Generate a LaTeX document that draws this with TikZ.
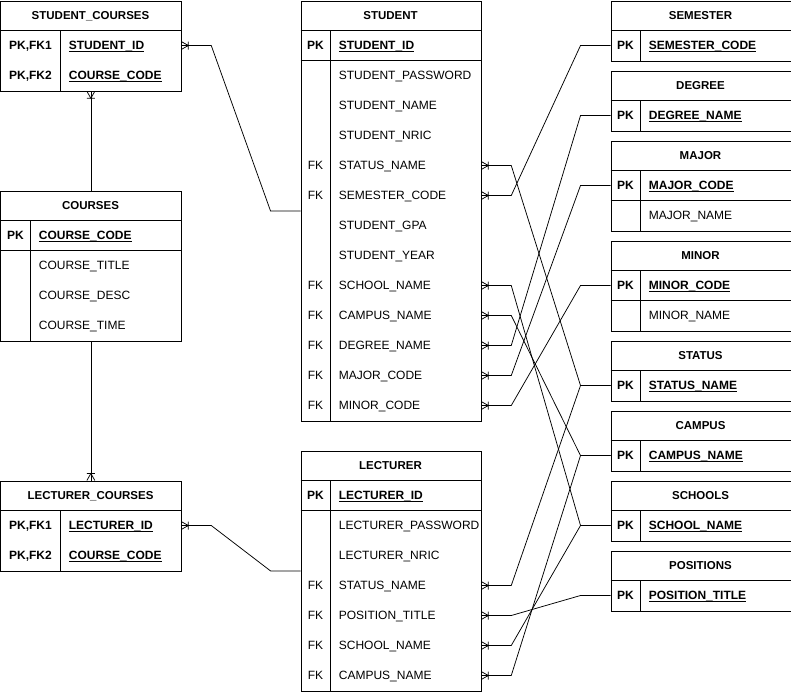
\documentclass[tikz,border=0pt]{standalone}
\usepackage{fontspec}
\setmainfont{Liberation Sans}
\usetikzlibrary{calc}

\tikzset{
  entity/.style={draw, rectangle, inner sep=0pt, anchor=north west, minimum width=180pt},
  txt/.style={text height=8.6pt, text depth=0pt, font=\fontsize{12}{14}\selectfont},
  title/.style={txt, font=\fontsize{11.5}{14}\selectfont\bfseries, anchor=center},
  keyname/.style={txt, font=\fontsize{12}{14}\selectfont\bfseries, anchor=center},
  fkname/.style={txt, anchor=center},
  field/.style={txt, anchor=west},
  pkfield/.style={txt, font=\fontsize{12}{14}\selectfont\bfseries, anchor=west},
  crowfoot/.pic={\draw (0,-4) -- (7,0) -- (0,4) (7,-4) -- (7,4);}
}
\newcommand{\pkname}[1]{\setbox0\hbox{#1}\rlap{\rule[-2.2pt]{\wd0}{0.8pt}}\box0}

\begin{document}
\begin{tikzpicture}[x=1pt, y=-1pt, line width=0.75pt, every node/.style={inner sep=0pt}]
      \useasboundingbox (-0.5,-0.5) rectangle (790.5,690.5);

      % student_courses
      \node[entity, minimum height=90pt] (sc) at (0,0) {};
      \draw (0,30) -- (180,30);
      \draw (60,30) -- (60,90);
      \node[title] (scTitle) at (90,15) {STUDENT\_COURSES};
      \node[keyname] (scKey1) at (30,45) {PK,FK1};
      \node[keyname] (scKey2) at (30,75) {PK,FK2};
      \node[pkfield] (scStudentId) at (68,45) {\pkname{STUDENT\_ID}};
      \node[pkfield] (scCourseCode) at (68,75) {\pkname{COURSE\_CODE}};

      % courses
      \node[entity, minimum height=150pt] (co) at (0,190) {};
      \draw (0,220) -- (180,220);
      \draw (0,250) -- (180,250);
      \draw (30,220) -- (30,340);
      \node[title] (coTitle) at (90,205) {COURSES};
      \node[keyname] (coKey) at (15,235) {PK};
      \node[pkfield] (coCourseCode) at (38,235) {\pkname{COURSE\_CODE}};
      \node[field] (coCourseTitle) at (38,265) {COURSE\_TITLE};
      \node[field] (coCourseDesc) at (38,295) {COURSE\_DESC};
      \node[field] (coCourseTime) at (38,325) {COURSE\_TIME};

      % lecturer_courses
      \node[entity, minimum height=90pt] (lc) at (0,480) {};
      \draw (0,510) -- (180,510);
      \draw (60,510) -- (60,570);
      \node[title] (lcTitle) at (90,495) {LECTURER\_COURSES};
      \node[keyname] (lcKey1) at (30,525) {PK,FK1};
      \node[keyname] (lcKey2) at (30,555) {PK,FK2};
      \node[pkfield] (lcLecturerId) at (68,525) {\pkname{LECTURER\_ID}};
      \node[pkfield] (lcCourseCode) at (68,555) {\pkname{COURSE\_CODE}};

      % student
      \node[entity, minimum height=420pt] (st) at (300,0) {};
      \draw (300,30) -- (480,30);
      \draw (300,60) -- (480,60);
      \draw (330,30) -- (330,420);
      \node[title] (stTitle) at (390,15) {STUDENT};
      \node[keyname] (stKey) at (315,45) {PK};
      \node[pkfield] (stStudentId) at (338,45) {\pkname{STUDENT\_ID}};
      \node[field] (stPassword) at (338,75) {STUDENT\_PASSWORD};
      \node[field] (stName) at (338,105) {STUDENT\_NAME};
      \node[field] (stNric) at (338,135) {STUDENT\_NRIC};
      \node[fkname] (stFk1) at (315,165) {FK};
      \node[field] (stStatus) at (338,165) {STATUS\_NAME};
      \node[fkname] (stFk2) at (315,195) {FK};
      \node[field] (stSemester) at (338,195) {SEMESTER\_CODE};
      \node[field] (stGpa) at (338,225) {STUDENT\_GPA};
      \node[field] (stYear) at (338,255) {STUDENT\_YEAR};
      \node[fkname] (stFk3) at (315,285) {FK};
      \node[field] (stSchool) at (338,285) {SCHOOL\_NAME};
      \node[fkname] (stFk4) at (315,315) {FK};
      \node[field] (stCampus) at (338,315) {CAMPUS\_NAME};
      \node[fkname] (stFk5) at (315,345) {FK};
      \node[field] (stDegree) at (338,345) {DEGREE\_NAME};
      \node[fkname] (stFk6) at (315,375) {FK};
      \node[field] (stMajor) at (338,375) {MAJOR\_CODE};
      \node[fkname] (stFk7) at (315,405) {FK};
      \node[field] (stMinor) at (338,405) {MINOR\_CODE};

      % lecturer
      \node[entity, minimum height=240pt] (le) at (300,450) {};
      \draw (300,480) -- (480,480);
      \draw (300,510) -- (480,510);
      \draw (330,480) -- (330,690);
      \node[title] (leTitle) at (390,465) {LECTURER};
      \node[keyname] (leKey) at (315,495) {PK};
      \node[pkfield] (leLecturerId) at (338,495) {\pkname{LECTURER\_ID}};
      \node[field] (lePassword) at (338,525) {LECTURER\_PASSWORD};
      \node[field] (leNric) at (338,555) {LECTURER\_NRIC};
      \node[fkname] (leFk1) at (315,585) {FK};
      \node[field] (leStatus) at (338,585) {STATUS\_NAME};
      \node[fkname] (leFk2) at (315,615) {FK};
      \node[field] (lePosition) at (338,615) {POSITION\_TITLE};
      \node[fkname] (leFk3) at (315,645) {FK};
      \node[field] (leSchool) at (338,645) {SCHOOL\_NAME};
      \node[fkname] (leFk4) at (315,675) {FK};
      \node[field] (leCampus) at (338,675) {CAMPUS\_NAME};

      % lookup tables
      \node[entity, minimum height=60pt] (sem) at (610,0) {};
      \draw (610,30) -- (790,30);
      \draw (640,30) -- (640,60);
      \node[title] (semTitle) at (700,15) {SEMESTER};
      \node[keyname] (semKey) at (625,45) {PK};
      \node[pkfield] (semCode) at (648,45) {\pkname{SEMESTER\_CODE}};

      \node[entity, minimum height=60pt] (deg) at (610,70) {};
      \draw (610,100) -- (790,100);
      \draw (640,100) -- (640,130);
      \node[title] (degTitle) at (700,85) {DEGREE};
      \node[keyname] (degKey) at (625,115) {PK};
      \node[pkfield] (degName) at (648,115) {\pkname{DEGREE\_NAME}};

      \node[entity, minimum height=90pt] (maj) at (610,140) {};
      \draw (610,170) -- (790,170);
      \draw (610,200) -- (790,200);
      \draw (640,170) -- (640,230);
      \node[title] (majTitle) at (700,155) {MAJOR};
      \node[keyname] (majKey) at (625,185) {PK};
      \node[pkfield] (majCode) at (648,185) {\pkname{MAJOR\_CODE}};
      \node[field] (majName) at (648,215) {MAJOR\_NAME};

      \node[entity, minimum height=90pt] (mnr) at (610,240) {};
      \draw (610,270) -- (790,270);
      \draw (610,300) -- (790,300);
      \draw (640,270) -- (640,330);
      \node[title] (mnrTitle) at (700,255) {MINOR};
      \node[keyname] (mnrKey) at (625,285) {PK};
      \node[pkfield] (mnrCode) at (648,285) {\pkname{MINOR\_CODE}};
      \node[field] (mnrName) at (648,315) {MINOR\_NAME};

      \node[entity, minimum height=60pt] (sta) at (610,340) {};
      \draw (610,370) -- (790,370);
      \draw (640,370) -- (640,400);
      \node[title] (staTitle) at (700,355) {STATUS};
      \node[keyname] (staKey) at (625,385) {PK};
      \node[pkfield] (staName) at (648,385) {\pkname{STATUS\_NAME}};

      \node[entity, minimum height=60pt] (cam) at (610,410) {};
      \draw (610,440) -- (790,440);
      \draw (640,440) -- (640,470);
      \node[title] (camTitle) at (700,425) {CAMPUS};
      \node[keyname] (camKey) at (625,455) {PK};
      \node[pkfield] (camName) at (648,455) {\pkname{CAMPUS\_NAME}};

      \node[entity, minimum height=60pt] (sch) at (610,480) {};
      \draw (610,510) -- (790,510);
      \draw (640,510) -- (640,540);
      \node[title] (schTitle) at (700,495) {SCHOOLS};
      \node[keyname] (schKey) at (625,525) {PK};
      \node[pkfield] (schName) at (648,525) {\pkname{SCHOOL\_NAME}};

      \node[entity, minimum height=60pt] (pos) at (610,550) {};
      \draw (610,580) -- (790,580);
      \draw (640,580) -- (640,610);
      \node[title] (posTitle) at (700,565) {POSITIONS};
      \node[keyname] (posKey) at (625,595) {PK};
      \node[pkfield] (posTitleKey) at (648,595) {\pkname{POSITION\_TITLE}};

      % link tables
      \draw (sc.east |- scStudentId.west) -- ++(30,0) -- ($(st.west)+(-30,0)$) -- (st.west);
      \draw (sc.south) -- (co.north);
      \draw (co.south) -- (lc.north);
      \draw (lc.east |- lcLecturerId.west) -- ++(30,0) -- ($(le.west)+(-30,0)$) -- (le.west);
      \pic at (sc.east |- scStudentId.west) {crowfoot};
      \pic[rotate=-90] at (sc.south) {crowfoot};
      \pic[rotate=90] at (lc.north) {crowfoot};
      \pic at (lc.east |- lcLecturerId.west) {crowfoot};

      % student foreign keys
      \draw (st.east |- stStatus.west) -- ++(30,0) -- ($(sta.west |- staName.west)+(-30,0)$) -- (sta.west |- staName.west);
      \draw (st.east |- stSemester.west) -- ++(30,0) -- ($(sem.west |- semCode.west)+(-30,0)$) -- (sem.west |- semCode.west);
      \draw (st.east |- stSchool.west) -- ++(30,0) -- ($(sch.west |- schName.west)+(-30,0)$) -- (sch.west |- schName.west);
      \draw (st.east |- stCampus.west) -- ++(30,0) -- ($(cam.west |- camName.west)+(-30,0)$) -- (cam.west |- camName.west);
      \draw (st.east |- stDegree.west) -- ++(30,0) -- ($(deg.west |- degName.west)+(-30,0)$) -- (deg.west |- degName.west);
      \draw (st.east |- stMajor.west) -- ++(30,0) -- ($(maj.west |- majCode.west)+(-30,0)$) -- (maj.west |- majCode.west);
      \draw (st.east |- stMinor.west) -- ++(30,0) -- ($(mnr.west |- mnrCode.west)+(-30,0)$) -- (mnr.west |- mnrCode.west);
      \pic at (st.east |- stStatus.west) {crowfoot};
      \pic at (st.east |- stSemester.west) {crowfoot};
      \pic at (st.east |- stSchool.west) {crowfoot};
      \pic at (st.east |- stCampus.west) {crowfoot};
      \pic at (st.east |- stDegree.west) {crowfoot};
      \pic at (st.east |- stMajor.west) {crowfoot};
      \pic at (st.east |- stMinor.west) {crowfoot};

      % lecturer foreign keys
      \draw (le.east |- leStatus.west) -- ++(30,0) -- ($(sta.west |- staName.west)+(-30,0)$) -- (sta.west |- staName.west);
      \draw (le.east |- lePosition.west) -- ++(30,0) -- ($(pos.west |- posTitleKey.west)+(-30,0)$) -- (pos.west |- posTitleKey.west);
      \draw (le.east |- leSchool.west) -- ++(30,0) -- ($(sch.west |- schName.west)+(-30,0)$) -- (sch.west |- schName.west);
      \draw (le.east |- leCampus.west) -- ++(30,0) -- ($(cam.west |- camName.west)+(-30,0)$) -- (cam.west |- camName.west);
      \pic at (le.east |- leStatus.west) {crowfoot};
      \pic at (le.east |- lePosition.west) {crowfoot};
      \pic at (le.east |- leSchool.west) {crowfoot};
      \pic at (le.east |- leCampus.west) {crowfoot};
    \end{tikzpicture}
\end{document}
